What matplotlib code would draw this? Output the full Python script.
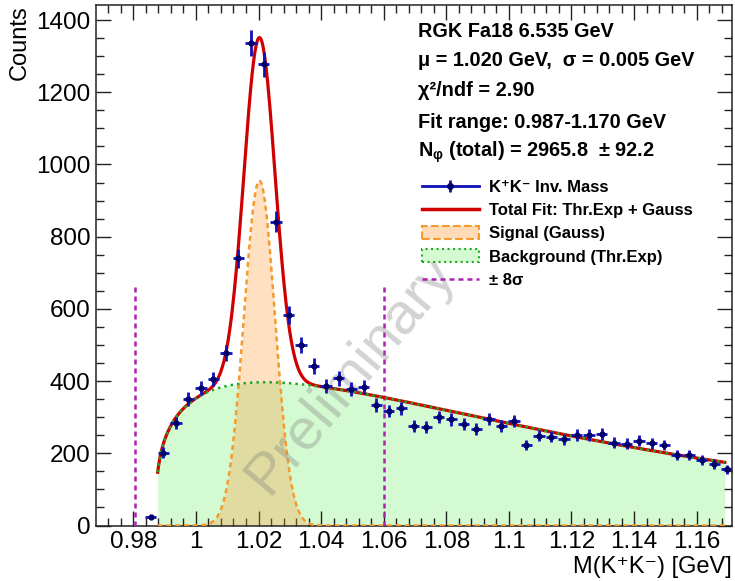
import numpy as np
import matplotlib
matplotlib.use("Agg")
import matplotlib.pyplot as plt
from matplotlib.lines import Line2D
from matplotlib.patches import Patch
from matplotlib.ticker import MultipleLocator, FuncFormatter

# histogram K+K- invariant mass (bin centres, counts)
mass = [0.9856, 0.9896, 0.9936, 0.9976, 1.0016, 1.0056, 1.0096, 1.0136, 1.0176, 1.0216,
        1.0256, 1.0296, 1.0336, 1.0376, 1.0416, 1.0456, 1.0496, 1.0536, 1.0576, 1.0616,
        1.0656, 1.0696, 1.0736, 1.0776, 1.0816, 1.0856, 1.0896, 1.0936, 1.0976, 1.1016,
        1.1056, 1.1096, 1.1136, 1.1176, 1.1216, 1.1256, 1.1296, 1.1336, 1.1376, 1.1416,
        1.1456, 1.1496, 1.1536, 1.1576, 1.1616, 1.1656, 1.1696]
counts = [24, 202, 285, 350, 380, 406, 477, 740, 1336, 1277,
          841, 583, 500, 442, 386, 408, 377, 383, 334, 317,
          325, 276, 274, 300, 294, 280, 267, 295, 276, 290,
          223, 249, 246, 239, 251, 251, 253, 229, 226, 235,
          228, 223, 195, 195, 181, 170, 156]

# fit parameters (Gauss signal + threshold exponential background)
gauss_amp, gauss_mu, gauss_sigma = 955.0, 1.0203, 0.00497
bg_amp, bg_x0, bg_pow, bg_slope = 1605.0, 0.9872, 0.321, 9.18
fit_lo, fit_hi = 0.9878, 1.1690

info_lines = ["RGK Fa18 6.535 GeV",
              "\u03bc = 1.020 GeV,  \u03c3 = 0.005 GeV",
              "\u03c7\u00b2/ndf = 2.90",
              "Fit range: 0.987-1.170 GeV",
              "N$_{\u03c6}$ (total) = 2965.8  \u00b1 92.2"]

FONT = ["Liberation Sans", "DejaVu Sans"]
plt.rcParams["font.family"] = FONT
plt.rcParams["mathtext.fontset"] = "custom"
plt.rcParams["mathtext.rm"] = "Liberation Sans:bold"
plt.rcParams["mathtext.it"] = "Liberation Sans:bold"
plt.rcParams["mathtext.bf"] = "Liberation Sans:bold"

BLUE = "#1010b8"
NAVY = "#00006a"
RED = "#d00000"
ORANGE = "#f59a2c"
GREEN = "#22a822"
GREEN_FILL = "#d4fad1"
MAGENTA = "#b020b0"


def gauss(x):
    return gauss_amp * np.exp(-0.5 * ((x - gauss_mu) / gauss_sigma) ** 2)


def thr_exp(x):
    t = x - bg_x0
    return bg_amp * t ** bg_pow * np.exp(-bg_slope * t)


fig = plt.figure(figsize=(7.35, 5.81), dpi=100)
ax = fig.add_axes([96 / 735, 1 - 525.5 / 581, (732 - 96) / 735, (525.5 - 5) / 581])

xf = np.linspace(fit_lo, fit_hi, 800)
sig = gauss(xf)
bg = thr_exp(xf)

ax.fill_between(xf, 0, bg, color=GREEN_FILL, lw=0, zorder=1)
ax.fill_between(xf, 0, sig, color=(1.0, 0.6, 0.2), alpha=0.3, lw=0, zorder=2)
ax.plot(xf, sig, color=ORANGE, lw=1.8, ls=(0, (2, 1.5)), zorder=3)
ax.plot(xf, sig + bg, color=RED, lw=2.3, zorder=4)
ax.plot(xf, bg, color=GREEN, lw=1.8, ls=(0, (1, 1.6)), zorder=5)

lo8, hi8 = gauss_mu - 8 * gauss_sigma, gauss_mu + 8 * gauss_sigma
ax.vlines([lo8, hi8], 0, 670, colors=MAGENTA, lw=1.8, linestyles=(0, (2, 1.6)), zorder=3)

ax.text(0.40, 0.29, "Preliminary", transform=ax.transAxes, fontsize=42,
        color="gray", alpha=0.35, rotation=50, ha="center", va="center", zorder=4.5)

cnt = np.array(counts)
ax.errorbar(mass, cnt, yerr=np.sqrt(cnt), xerr=0.0018, fmt="o", ms=3.5,
            color=BLUE, mfc=NAVY, mec=NAVY, elinewidth=2, capsize=0, zorder=6)

ax.set_xlim(0.96808, 1.17128)
ax.set_ylim(0, 1441.8)
ax.xaxis.set_major_locator(MultipleLocator(0.02))
ax.xaxis.set_minor_locator(MultipleLocator(0.004))
ax.yaxis.set_major_locator(MultipleLocator(200))
ax.yaxis.set_minor_locator(MultipleLocator(50))
ax.xaxis.set_major_formatter(FuncFormatter(lambda v, p: "%g" % round(v, 3)))
ax.tick_params(which="both", direction="in", top=True, right=True,
               colors="#222222", labelcolor="black", width=1.0)
ax.tick_params(which="major", length=11, labelsize=17.5)
ax.tick_params(axis="x", which="major", pad=4)
ax.tick_params(axis="y", which="major", pad=4)
ax.tick_params(which="minor", length=6)
for s in ax.spines.values():
    s.set_linewidth(1.1)
    s.set_color("#222222")

ax.set_ylabel("Counts", fontsize=17, loc="top", labelpad=4)
ax.set_xlabel("M(K\u207aK\u207b) [GeV]", fontsize=17, loc="right", labelpad=2)

baselines = [37, 66.5, 96, 128, 157]
for txt, yb in zip(info_lines, baselines):
    fig.text(418 / 735, 1 - yb / 581, txt, fontsize=14.3, fontweight="bold",
             ha="left", va="baseline", family=FONT)

h_data = (Line2D([], [], color=BLUE, lw=2),
          Line2D([], [], ls="none", marker="|", ms=9, mew=2, color=BLUE),
          Line2D([], [], ls="none", marker="o", ms=4, color=NAVY))
h_fit = Line2D([], [], color=RED, lw=2.5)
h_sig = Patch(facecolor=(1.0, 0.86, 0.72), edgecolor=ORANGE, ls="--", lw=1.5)
h_bg = Patch(facecolor=GREEN_FILL, edgecolor=GREEN, ls=":", lw=1.5)
h_8s = Line2D([], [], color=MAGENTA, lw=1.8, ls=(0, (2, 1.6)))

fig.legend([h_data, h_fit, h_sig, h_bg, h_8s],
           ["K\u207aK\u207b Inv. Mass", "Total Fit: Thr.Exp + Gauss", "Signal (Gauss)",
            "Background (Thr.Exp)", "\u00b1 8\u03c3"],
           loc="upper left", bbox_to_anchor=(422 / 735, 1 - 180 / 581),
           frameon=False, borderpad=0, borderaxespad=0, handlelength=3.4,
           handleheight=0.8, handletextpad=0.6, labelspacing=0.48,
           prop={"family": FONT, "weight": "bold", "size": 12})

fig.savefig("out.png", dpi=100)
